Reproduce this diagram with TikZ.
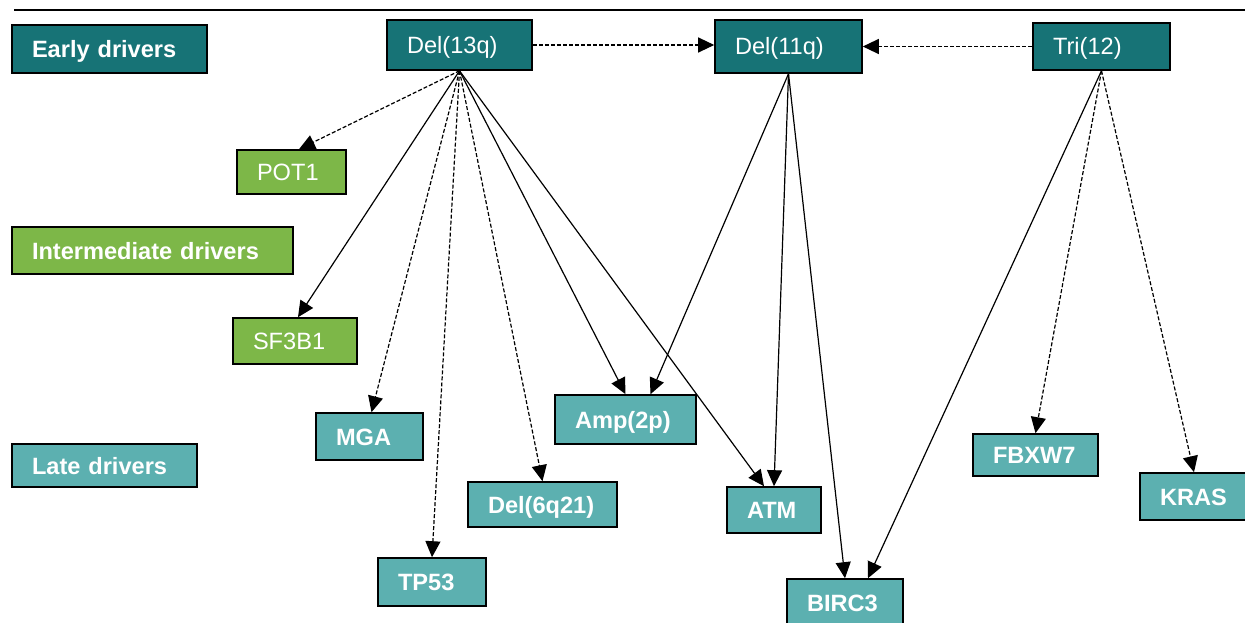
\documentclass[tikz,border=0pt]{standalone}
\usepackage{fontspec}
\setmainfont{Liberation Sans}
\usetikzlibrary{arrows.meta}
\definecolor{earlyc}{RGB}{23,115,118}
\definecolor{interc}{RGB}{125,183,72}
\definecolor{latec}{RGB}{92,176,176}
\tikzset{
  box/.style={draw=black, line width=1.6pt, rectangle, inner xsep=20pt, inner ysep=0pt,
    align=left, text=white, font=\fontsize{23.6}{28}\selectfont,
    text height=17pt, text depth=0pt},
  earlybox/.style={box, fill=earlyc},
  interbox/.style={box, fill=interc},
  latebox/.style={box, fill=latec, font=\fontsize{23.6}{28}\selectfont\bfseries},
  legendbox/.style={font=\fontsize{23.6}{28}\selectfont\bfseries},
  link/.style={line width=1.2pt, -{Triangle[length=16pt,width=15pt]}},
  weak/.style={link, dash pattern=on 4pt off 2pt},
}
\begin{document}
\begin{tikzpicture}[x=1pt,y=-1pt]
\useasboundingbox (0,0) rectangle (1245,623);
\draw[line width=2pt] (14,10) -- (1245,10);

% legend
\node[earlybox, legendbox, text width=155pt, minimum height=48pt] (early) at (109.5,49) {Early drivers};
\node[interbox, legendbox, text width=241pt, minimum height=47pt] (inter) at (152.5,250.5) {Intermediate drivers};
\node[latebox, text width=145pt, minimum height=43pt] (late) at (104.5,465.5) {Late drivers};

% early drivers
\node[earlybox, text width=105pt, minimum height=50pt] (d13) at (459.5,45) {Del(13q)};
\node[earlybox, text width=107pt, minimum height=53pt] (d11) at (788.5,46.5) {Del(11q)};
\node[earlybox, text width=97pt, minimum height=47pt] (tri) at (1101.5,46.5) {Tri(12)};

% intermediate drivers
\node[interbox, text width=69pt, minimum height=44pt] (pot1) at (291.5,172) {POT1};
\node[interbox, text width=84pt, minimum height=46pt] (sf3b1) at (295,341) {SF3B1};

% late drivers
\node[latebox, text width=67pt, minimum height=47pt] (mga) at (369.5,436.5) {MGA};
\node[latebox, text width=101pt, minimum height=49pt] (amp) at (625.5,419.5) {Amp(2p)};
\node[latebox, text width=109pt, minimum height=45pt] (del6) at (542.5,504.5) {Del(6q21)};
\node[latebox, text width=68pt, minimum height=48pt] (tp53) at (432,582) {TP53};
\node[latebox, text width=54pt, minimum height=46pt] (atm) at (774,510) {ATM};
\node[latebox, text width=76pt, minimum height=47pt] (birc3) at (845,602.5) {BIRC3};
\node[latebox, text width=85pt, minimum height=42pt] (fbxw7) at (1035.5,455) {FBXW7};
\node[latebox, text width=68pt, minimum height=47pt] (kras) at (1194,496.5) {KRAS};

% links between early drivers
\draw[weak] (d13.east) -- (d13.east -| d11.west);
\draw[weak] (tri.west) -- (tri.west -| d11.east);

% from Del(13q)
\draw[weak] (d13.south) -- ([xshift=7.5pt]pot1.north);
\draw[link] (d13.south) -- ([xshift=3pt]sf3b1.north);
\draw[weak] (d13.south) -- ([xshift=2pt]mga.north);
\draw[weak] (d13.south) -- (tp53.north);
\draw[weak] (d13.south) -- (del6.north);
\draw[link] (d13.south) -- (amp.north);
\draw[link] (d13.south) -- ([xshift=-10pt]atm.north);

% from Del(11q)
\draw[link] (d11.south) -- ([xshift=25pt]amp.north);
\draw[link] (d11.south) -- (atm.north);
\draw[link] (d11.south) -- (birc3.north);

% from Tri(12)
\draw[link] (tri.south) -- ([xshift=23pt]birc3.north);
\draw[weak] (tri.south) -- (fbxw7.north);
\draw[weak] (tri.south) -- (kras.north);
\end{tikzpicture}
\end{document}
